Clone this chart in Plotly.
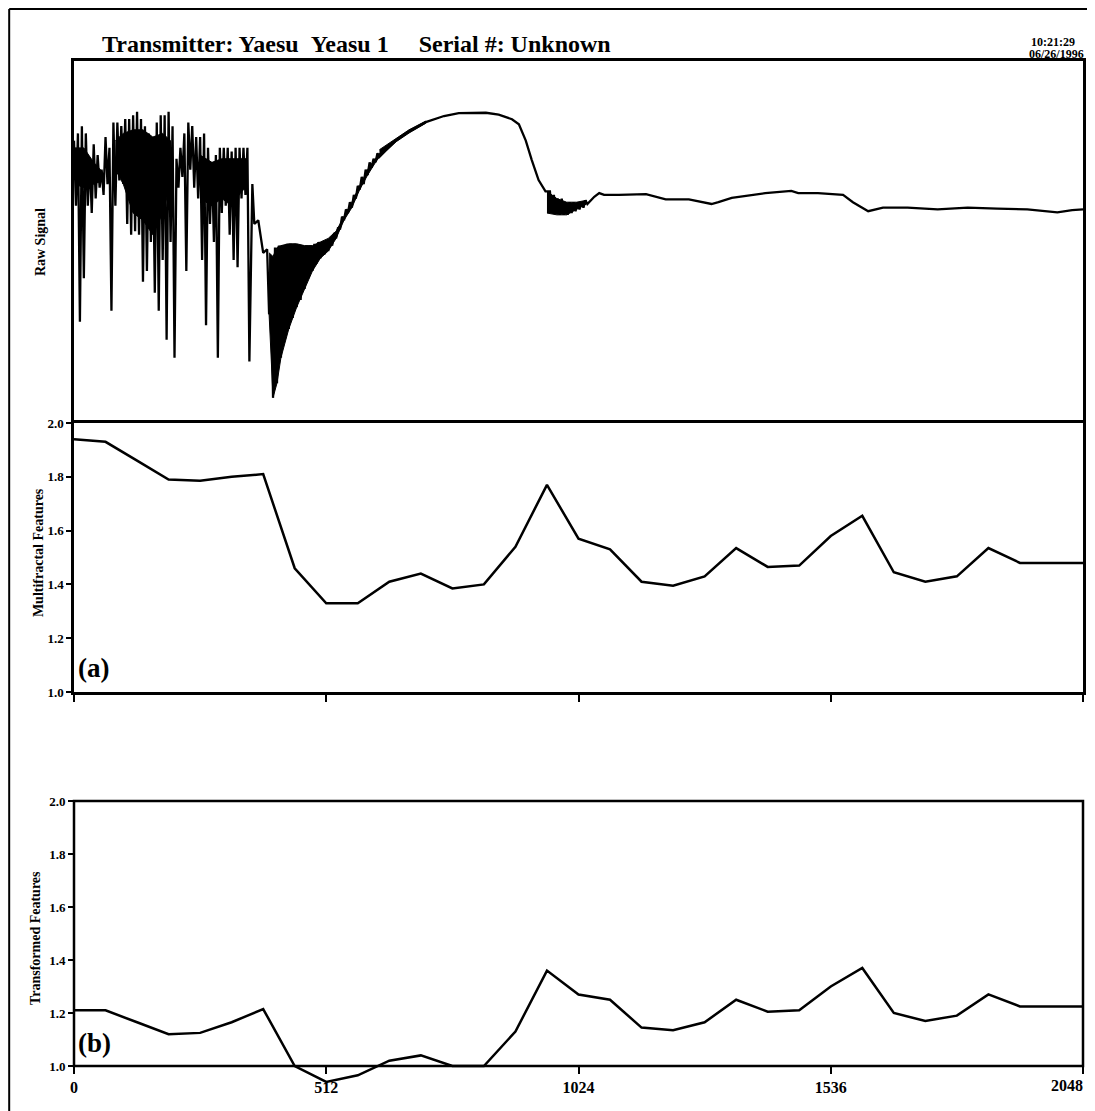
import plotly.graph_objects as go

# ---------------- data ----------------
raw_index = [
    0, 4, 8, 12, 16, 20, 24, 28, 32, 36, 40, 44, 48, 52, 56, 60, 64, 68, 72, 76,
    80, 84, 88, 92, 96, 100, 104, 108, 112, 116, 120, 124, 128, 132, 136, 140, 144, 148, 152, 156,
    160, 164, 168, 172, 176, 180, 184, 188, 192, 196, 200, 204, 208, 212, 216, 220, 224, 228, 232, 236,
    240, 244, 248, 252, 256, 260, 264, 268, 272, 276, 280, 284, 288, 292, 296, 300, 304, 308, 312, 316,
    320, 324, 328, 332, 336, 340, 344, 348, 352, 356,
    362, 366, 374, 384,
    392, 396, 400, 404, 408, 412, 416, 420, 424, 428, 432, 436, 440, 444, 448, 452, 456, 460, 464, 468,
    472, 476, 480, 484, 488, 492, 496, 500, 504, 508, 512, 516, 520, 524, 528, 532, 536, 540, 544, 548,
    552, 556, 560, 564, 568, 572, 576, 580, 584, 588, 592, 596, 600, 604, 608, 612, 616, 620,
    654, 680, 714, 751, 781, 836, 862, 889, 903, 917, 929, 943, 957,
    966, 970, 974, 978, 982, 986, 990, 994, 998, 1002, 1006, 1010, 1014, 1018, 1022, 1026, 1030, 1034, 1038, 1042,
    1056, 1066, 1076, 1106, 1161, 1201, 1248, 1294, 1308, 1335, 1403, 1456, 1470, 1510, 1561, 1581, 1612, 1642,
    1692, 1753, 1814, 1874, 1935, 1996, 2026, 2048,
]
raw_value = [
    78, 60, 80, 28, 82, 40, 80, 60, 73, 58, 77, 62, 74, 65, 70, 63, 79, 66, 76, 31,
    83, 60, 83, 67, 82, 66, 84, 55, 84, 52, 85, 53, 86, 52, 84, 39, 82, 42, 80, 50,
    79, 36, 83, 31, 85, 45, 85, 23, 86, 50, 82, 18, 73, 65, 76, 68, 80, 42, 83, 70,
    82, 65, 79, 62, 79, 45, 80, 27, 76, 55, 72, 50, 74, 18, 76, 58, 76, 60, 76, 52,
    75, 45, 76, 43, 76, 62, 76, 63, 76, 17,
    66, 55, 56, 47,
    48, 30, 46, 7, 48.5, 11, 49, 18, 49, 23, 49.5, 26, 49.5, 29, 49.5, 32, 49, 34, 49, 37,
    49, 40, 49, 42, 49.5, 44, 50, 45.5, 50, 46.5, 50.5, 47.5, 51, 49, 52.5, 51, 54, 53.5, 57, 56,
    59, 58, 61, 59.5, 63, 62, 65.5, 64.5, 68, 66, 70, 68.5, 72, 70.5, 73, 72, 74.5, 73.5,
    78.2, 80.5, 83.1, 84.8, 85.6, 85.7, 85.2, 83.9, 82.5, 78, 72.7, 67.1, 64,
    64, 58, 63, 58, 62, 57.5, 62, 57.5, 61, 57.5, 61, 58, 61, 58.5, 61, 59, 61, 59.5, 61.5, 60.5,
    62.5, 63.5, 63, 63, 63.2, 61.8, 61.8, 60.5, 61, 62.2, 63.5, 64.1, 63.5, 63.5, 63, 61, 58.5, 59.5,
    59.5, 59, 59.5, 59.2, 59, 58.2, 58.8, 59,
]

# envelopes of the parts of the raw signal that oscillate so densely they print solid black
dense0_index = [2, 20, 40, 60]
dense0_top = [76, 76, 72, 69]
dense0_bot = [66, 65, 66, 67]
dense1_index = [84, 100, 120, 140, 160, 180, 196]
dense1_top = [78, 80, 81, 81, 79, 80, 78]
dense1_bot = [70, 66, 58, 56, 52, 58, 66]
dense2_index = [256, 280, 300, 320, 340, 350]
dense2_top = [74, 72, 73, 73, 73, 73]
dense2_bot = [62, 60, 62, 60, 64, 65]
dense3_index = [396, 404, 412, 420, 436, 452, 468, 484, 500, 516, 532, 548, 564, 580, 596, 612, 620]
dense3_top = [47, 46, 48.5, 49, 49.5, 49.5, 49, 49, 50, 51, 53, 57, 61, 65.5, 70, 73, 74.5]
dense3_bot = [30, 7, 11, 18, 26, 32, 37, 42, 45.5, 47.5, 51, 56, 59.5, 64.5, 68.5, 72, 73.5]
dense4_index = [960, 980, 1000, 1020, 1040]
dense4_top = [64, 62, 61, 61, 61.5]
dense4_bot = [58, 57.5, 57.5, 59, 60.5]
dense5_index = [620, 654, 680, 714]
dense5_top = [75.5, 78.7, 81, 83.4]
dense5_bot = [73.5, 77.7, 80.1, 82.8]

feature_index = [0, 64, 128, 192, 256, 320, 384, 448, 512, 576, 640, 704, 768, 832, 896, 960, 1024,
                 1088, 1152, 1216, 1280, 1344, 1408, 1472, 1536, 1600, 1664, 1728, 1792, 1856, 1920,
                 1984, 2048]
multifractal = [1.94, 1.93, 1.86, 1.79, 1.785, 1.80, 1.81, 1.46, 1.33, 1.33, 1.41, 1.44, 1.385,
                1.40, 1.54, 1.77, 1.57, 1.53, 1.41, 1.395, 1.43, 1.535, 1.465, 1.47, 1.58, 1.655,
                1.445, 1.41, 1.43, 1.535, 1.48, 1.48, 1.48]
transformed = [1.21, 1.21, 1.165, 1.12, 1.125, 1.165, 1.215, 1.00, 0.94, 0.965, 1.02, 1.04, 1.00,
               1.00, 1.13, 1.36, 1.27, 1.25, 1.145, 1.135, 1.165, 1.25, 1.205, 1.21, 1.30, 1.37,
               1.20, 1.17, 1.19, 1.27, 1.225, 1.225, 1.225]

x_ticks = [0, 512, 1024, 1536, 2048]
x_tick_labels = ["0", "512", "1024", "1536", "2048"]
y_ticks = [1.0, 1.2, 1.4, 1.6, 1.8, 2.0]
y_tick_labels = ["1.0", "1.2", "1.4", "1.6", "1.8", "2.0"]

title_text = "Transmitter: Yaesu\u00a0\u00a0Yeasu 1\u00a0\u00a0\u00a0\u00a0\u00a0Serial #: Unknown"
time_text = "10:21:29"
date_text = "06/26/1996"

# ---------------- layout geometry (page pixels) ----------------
PAGE_W, PAGE_H = 1095, 1111
OFF = 8                      # default body margin of the html page
W, H = PAGE_W - OFF, PAGE_H - OFF
L, R, T, B = 74, 1086, 61, 1090   # plot area, page pixels


def px(x):
    return (x - L) / (R - L)


def py(y):
    return (B - y) / (B - T)


SERIF = "Liberation Serif"
BLACK = "#000000"
LW = 2.5

fig = go.Figure()

# dense bands as closed polygons (segments separated by None)
poly_x, poly_y = [], []
for idx, top, bot in [(dense0_index, dense0_top, dense0_bot),
                      (dense1_index, dense1_top, dense1_bot),
                      (dense2_index, dense2_top, dense2_bot),
                      (dense3_index, dense3_top, dense3_bot),
                      (dense4_index, dense4_top, dense4_bot),
                      (dense5_index, dense5_top, dense5_bot)]:
    poly_x += list(idx) + list(reversed(idx)) + [None]
    poly_y += list(top) + list(reversed(bot)) + [None]
fig.add_trace(go.Scatter(x=poly_x, y=poly_y, mode="lines", fill="toself",
                         fillcolor=BLACK, line=dict(color=BLACK, width=1),
                         xaxis="x", yaxis="y", showlegend=False, hoverinfo="skip"))
fig.add_trace(go.Scatter(x=raw_index, y=raw_value, mode="lines",
                         line=dict(color=BLACK, width=2.3), xaxis="x", yaxis="y",
                         showlegend=False, hoverinfo="skip"))
fig.add_trace(go.Scatter(x=feature_index, y=multifractal, mode="lines",
                         line=dict(color=BLACK, width=2.5), xaxis="x2", yaxis="y2",
                         showlegend=False))
fig.add_trace(go.Scatter(x=feature_index, y=transformed, mode="lines",
                         line=dict(color=BLACK, width=2.5), xaxis="x3", yaxis="y3",
                         showlegend=False))

tickfont_y = dict(family=SERIF, size=13, color=BLACK, weight="bold")
tickfont_x = dict(family=SERIF, size=16, color=BLACK, weight="bold")

bottom_lo = 1.0 - (B - 1066) / (1066 - 801)

fig.update_layout(
    width=W, height=H,
    margin=dict(l=L - OFF, r=W - (R - OFF), t=T - OFF, b=H - (B - OFF), pad=0),
    paper_bgcolor="white", plot_bgcolor="white",
    showlegend=False,
    xaxis=dict(domain=[0, 1], range=[0, 2048], anchor="y", side="top", showgrid=False,
               zeroline=False, showticklabels=False, ticks="", showline=True, mirror=False,
               linecolor=BLACK, linewidth=LW),
    yaxis=dict(domain=[py(423), 1], range=[0, 100], anchor="x", showgrid=False, zeroline=False,
               showticklabels=False, ticks="", showline=True, mirror=True,
               linecolor=BLACK, linewidth=LW),
    xaxis2=dict(domain=[0, 1], range=[0, 2048], anchor="y2", showgrid=False, zeroline=False,
                tickvals=x_ticks, showticklabels=False, ticks="outside", ticklen=7,
                tickwidth=2, tickcolor=BLACK, showline=True, mirror=True,
                linecolor=BLACK, linewidth=LW),
    yaxis2=dict(domain=[py(692), py(423)], range=[1.0, 2.0], anchor="x2", showgrid=False,
                zeroline=False, tickvals=y_ticks, ticktext=y_tick_labels, ticks="outside",
                ticklen=5, tickwidth=2, tickcolor=BLACK, tickfont=tickfont_y,
                showline=True, mirror=True, linecolor=BLACK, linewidth=LW),
    xaxis3=dict(domain=[0, 1], range=[0, 2048], anchor="free", position=py(1066),
                showgrid=False, zeroline=False, tickvals=x_ticks,
                ticktext=x_tick_labels[:-1] + [""],
                ticks="outside", ticklen=7, tickwidth=2, tickcolor=BLACK, tickfont=tickfont_x,
                showline=False),
    yaxis3=dict(domain=[0, py(801)], range=[bottom_lo, 2.0], anchor="x3", showgrid=False,
                zeroline=False, tickvals=y_ticks, ticktext=y_tick_labels, ticks="outside",
                ticklen=5, tickwidth=2, tickcolor=BLACK, tickfont=tickfont_y,
                showline=False),
)

shapes = [
    # bottom panel frame (1.0 .. 2.0), paper-referenced so it is not clipped
    dict(type="rect", xref="paper", yref="paper", x0=0, x1=1, y0=py(1066), y1=py(801),
         line=dict(color=BLACK, width=LW), layer="above"),
    # outer page border (left and top)
    dict(type="line", xref="paper", yref="paper", x0=px(9), x1=px(1100), y0=py(9), y1=py(9),
         line=dict(color=BLACK, width=2)),
    dict(type="line", xref="paper", yref="paper", x0=px(9), x1=px(9), y0=py(9), y1=py(1120),
         line=dict(color=BLACK, width=2)),
]
fig.update_layout(shapes=shapes)

ann = []
ann.append(dict(text=title_text, xref="paper", yref="paper", x=px(100), y=py(44),
                xanchor="left", yanchor="middle", showarrow=False,
                font=dict(family=SERIF, size=24, color=BLACK, weight="bold")))
ann.append(dict(text=time_text, xref="paper", yref="paper", x=px(1080), y=py(42),
                xanchor="right", yanchor="middle", showarrow=False,
                font=dict(family=SERIF, size=12, color=BLACK, weight="bold")))
ann.append(dict(text=date_text, xref="paper", yref="paper", x=px(1089), y=py(54),
                xanchor="right", yanchor="middle", showarrow=False,
                font=dict(family=SERIF, size=12, color=BLACK, weight="bold")))
ann.append(dict(text=x_tick_labels[-1], xref="paper", yref="paper", x=px(1088), y=py(1085),
                xanchor="right", yanchor="middle", showarrow=False, font=tickfont_x))
for txt, xx, yy in [("Raw Signal", 40, 242), ("Multifractal Features", 38, 553),
                    ("Transformed Features", 35, 938)]:
    ann.append(dict(text=txt, xref="paper", yref="paper", x=px(xx), y=py(yy),
                    xanchor="center", yanchor="middle", textangle=-90, showarrow=False,
                    font=dict(family=SERIF, size=14, color=BLACK, weight="bold")))
for txt, yy in [("(a)", 668), ("(b)", 1043)]:
    ann.append(dict(text=txt, xref="paper", yref="paper", x=px(76), y=py(yy),
                    xanchor="left", yanchor="middle", showarrow=False,
                    font=dict(family=SERIF, size=27, color=BLACK, weight="bold")))
fig.update_layout(annotations=ann)

fig.write_html("out.html")
